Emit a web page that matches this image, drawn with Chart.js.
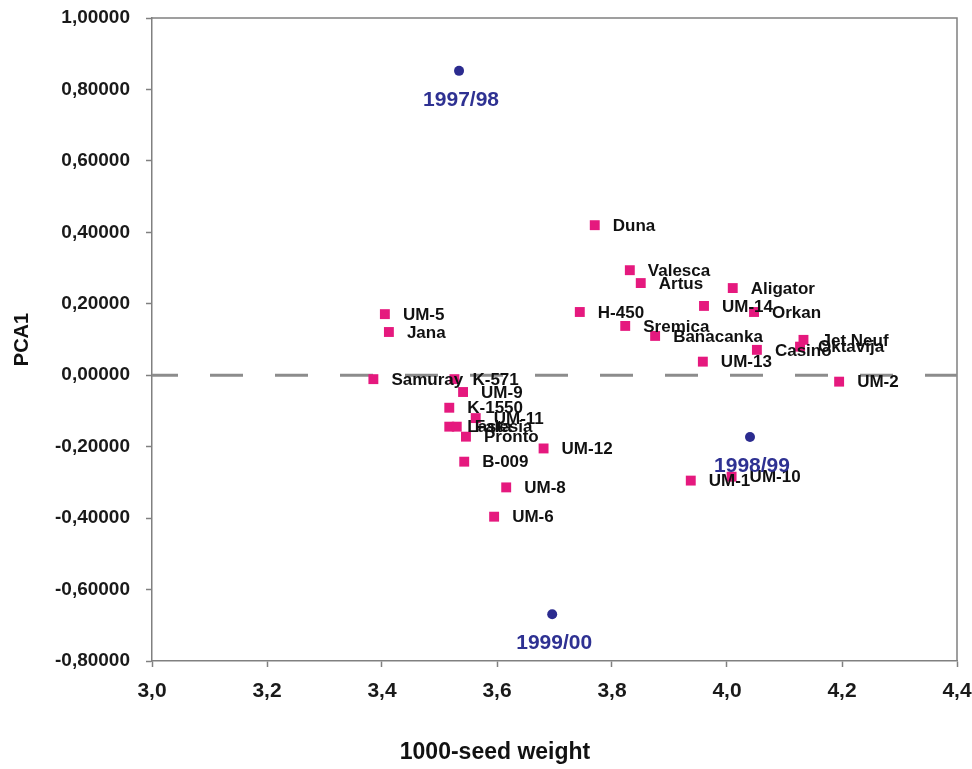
<!DOCTYPE html>
<html>
<head>
<meta charset="utf-8">
<script src="https://cdn.jsdelivr.net/npm/chart.js@4.4.1/dist/chart.umd.min.js"></script>
<style>
  body { margin: 0; background: #fff; }
</style>
</head>
<body>
<canvas id="grafico" width="972" height="769"></canvas>
<script>
// sorte (rosa)
const sorte = ["Duna", "Valesca", "Artus", "Aligator", "H-450", "UM-14", "Orkan", "Sremica",
  "Banacanka", "Jet Neuf", "Oktavija", "Casino", "UM-13", "UM-2", "UM-1", "UM-10",
  "UM-5", "Jana", "Samuray", "K-571", "UM-9", "K-1550", "UM-11", "Lasta", "Falesia",
  "Pronto", "UM-12", "B-009", "UM-8", "UM-6"]
const sorteMasa = [3.770, 3.831, 3.850, 4.010, 3.744, 3.960, 4.047, 3.823,
  3.875, 4.133, 4.127, 4.052, 3.958, 4.195, 3.937, 4.008,
  3.405, 3.412, 3.385, 3.526, 3.541, 3.517, 3.563, 3.517, 3.530,
  3.546, 3.681, 3.543, 3.616, 3.595]
const sortePCA1 = [0.420, 0.294, 0.258, 0.244, 0.177, 0.194, 0.177, 0.138,
  0.110, 0.099, 0.080, 0.071, 0.038, -0.018, -0.295, -0.284,
  0.171, 0.121, -0.011, -0.011, -0.047, -0.091, -0.120, -0.144, -0.144,
  -0.172, -0.205, -0.242, -0.314, -0.396]

// godine (plavo)
const godine = ["1997/98", "1998/99", "1999/00"]
const godineMasa = [3.534, 4.040, 3.696]
const godinePCA1 = [0.852, -0.173, -0.669]

// ose
const xTicks = [3.0, 3.2, 3.4, 3.6, 3.8, 4.0, 4.2, 4.4]
const yTicks = [-0.8, -0.6, -0.4, -0.2, 0.0, 0.2, 0.4, 0.6, 0.8, 1.0]
const nultaLinija = [0.0, 0.0]

const fuente = "'Liberation Sans', Arial, sans-serif"
const gris = "#808080"

const puntosSorte = sorteMasa.map((m, i) => ({ x: m, y: sortePCA1[i] }))
const puntosGodine = godineMasa.map((m, i) => ({ x: m, y: godinePCA1[i] }))
const puntosLinija = [
  { x: xTicks[0], y: nultaLinija[0] },
  { x: xTicks[xTicks.length - 1], y: nultaLinija[1] }
]

//marco y etiquetas
const etiquetas = {
  id: "etiquetas",
  beforeDatasetsDraw(chart) {
    const { ctx, chartArea: a } = chart
    ctx.save()
    ctx.strokeStyle = gris
    ctx.lineWidth = 1.5
    ctx.beginPath()
    ctx.moveTo(a.left, a.top)
    ctx.lineTo(a.right, a.top)
    ctx.lineTo(a.right, a.bottom)
    ctx.stroke()
    ctx.restore()
  },
  afterDatasetsDraw(chart) {
    const { ctx } = chart
    const sx = chart.scales.x, sy = chart.scales.y
    ctx.save()
    ctx.textBaseline = "middle"
    ctx.fillStyle = "#111"
    ctx.font = "bold 17px " + fuente
    ctx.textAlign = "left"
    for (let i = 0; i < sorte.length; i++) {
      ctx.fillText(sorte[i], sx.getPixelForValue(sorteMasa[i]) + 18, sy.getPixelForValue(sortePCA1[i]) + 1)
    }
    ctx.fillStyle = "#2e3192"
    ctx.font = "bold 21px " + fuente
    ctx.textAlign = "center"
    for (let i = 0; i < godine.length; i++) {
      ctx.fillText(godine[i], sx.getPixelForValue(godineMasa[i]) + 2, sy.getPixelForValue(godinePCA1[i]) + 29)
    }
    // titulo eje x
    ctx.fillStyle = "#111"
    ctx.font = "bold 23px " + fuente
    ctx.fillText("1000-seed weight", 495, 753)
    ctx.restore()
  }
}

const config = {
  type: "scatter",
  data: {
    datasets: [
      {
        label: "sorte",
        data: puntosSorte,
        pointStyle: "rect",
        pointRadius: 7,
        pointHoverRadius: 7,
        backgroundColor: "#e5197e",
        borderColor: "#e5197e",
        borderWidth: 0,
        order: 1
      },
      {
        label: "godine",
        data: puntosGodine,
        pointStyle: "circle",
        pointRadius: 5,
        pointHoverRadius: 5,
        backgroundColor: "#2b2b8f",
        borderColor: "#2b2b8f",
        borderWidth: 0,
        order: 0
      },
      {
        label: "nula",
        type: "line",
        data: puntosLinija,
        showLine: true,
        pointRadius: 0,
        borderColor: "#8c8c8c",
        borderWidth: 3,
        borderDash: [33, 32],
        borderDashOffset: 7,
        fill: false,
        order: 5
      }
    ]
  },
  options: {
    responsive: false,
    animation: false,
    layout: { padding: { left: 0, top: 18, right: 15, bottom: 0 } },
    plugins: {
      legend: { display: false },
      tooltip: { enabled: false }
    },
    scales: {
      x: {
        type: "linear",
        min: 3.0,
        max: 4.4,
        afterBuildTicks: (s) => { s.ticks = xTicks.map(v => ({ value: v })) },
        afterFit: (s) => { s.height = 108; s.paddingLeft = 0; s.paddingRight = 0 },
        grid: { drawOnChartArea: false, tickLength: 6, color: gris, tickWidth: 1.5 },
        border: { color: gris, width: 1.5 },
        ticks: {
          padding: 12,
          color: "#1a1a1a",
          font: { family: fuente, size: 21, weight: "bold" },
          callback: (v) => Number(v).toFixed(1).replace(".", ",")
        }
      },
      y: {
        type: "linear",
        min: -0.8,
        max: 1.0,
        afterBuildTicks: (s) => { s.ticks = yTicks.map(v => ({ value: v })) },
        afterFit: (s) => { s.width = 152; s.paddingTop = 0; s.paddingBottom = 0 },
        grid: { drawOnChartArea: false, tickLength: 6, color: gris, tickWidth: 1.5 },
        border: { color: gris, width: 1.5 },
        title: {
          display: true,
          text: "PCA1",
          color: "#111",
          padding: { top: 10, bottom: 0 },
          font: { family: fuente, size: 20, weight: "bold" }
        },
        ticks: {
          padding: 16,
          color: "#1a1a1a",
          font: { family: fuente, size: 19, weight: "bold" },
          callback: (v) => Number(v).toFixed(5).replace(".", ",")
        }
      }
    }
  },
  plugins: [etiquetas]
}

const myChart = new Chart(document.getElementById("grafico"), config)
</script>
</body>
</html>
